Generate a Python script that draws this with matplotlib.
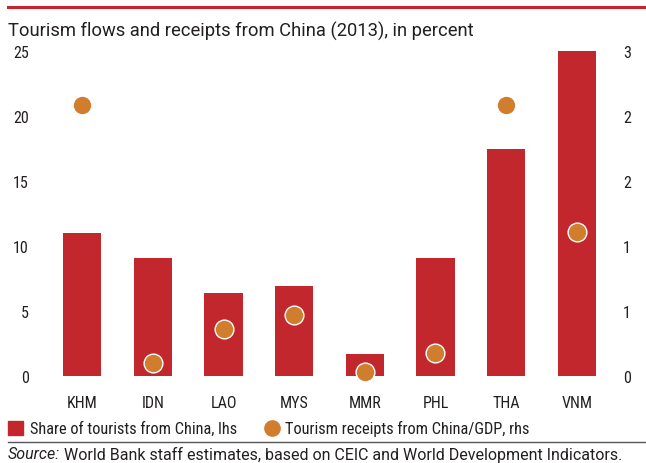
import matplotlib
matplotlib.use("Agg")
import matplotlib.pyplot as plt
from matplotlib.patches import Rectangle
from matplotlib.lines import Line2D
from matplotlib.ticker import FuncFormatter
import numpy as np

categories = ["KHM", "IDN", "LAO", "MYS", "MMR", "PHL", "THA", "VNM"]
tourist_share = [11.0, 9.1, 6.4, 6.9, 1.7, 9.1, 17.5, 25.0]
receipts_gdp = [2.5, 0.12, 0.43, 0.56, 0.04, 0.21, 2.5, 1.33]
left_ticks = [0, 5, 10, 15, 20, 25]
right_ticks = [0, 0.6, 1.2, 1.8, 2.4, 3.0]

RED = "#C1272D"
ORANGE = "#D17D2E"
TXT = "#231F20"
COND = ['Roboto Condensed', 'DejaVu Sans']

plt.rcParams['font.family'] = ['Roboto', 'DejaVu Sans']

W, H = 646, 464
fig = plt.figure(figsize=(W/100, H/100), dpi=100)
ax = fig.add_axes([47/W, 1-377/H, (612-47)/W, (377-52)/H])
x = np.arange(len(categories))
ax.bar(x, tourist_share, width=0.54, color=RED, zorder=2)
ax.set_xlim(-0.5, 7.5)
ax.set_ylim(0, 25)
ax.set_yticks(left_ticks)
ax.set_xticks(x)
ax.set_xticklabels(categories)
for s in ax.spines.values():
    s.set_visible(False)
ax.tick_params(axis='both', length=0, labelsize=11.5, colors=TXT)
ax.tick_params(axis='y', pad=13)
ax.tick_params(axis='x', pad=14)
for lab in ax.get_yticklabels() + ax.get_xticklabels():
    lab.set_family(COND)
for lab in ax.get_yticklabels():
    lab.set_horizontalalignment('right')

ax2 = ax.twinx()
ax2.set_ylim(0, 3)
ax2.set_yticks(right_ticks)
ax2.yaxis.set_major_formatter(FuncFormatter(lambda v, p: f"{v:.0f}"))
for s in ax2.spines.values():
    s.set_visible(False)
ax2.tick_params(axis='y', length=0, labelsize=11.5, colors=TXT, pad=8)
for lab in ax2.get_yticklabels():
    lab.set_family(COND)
ax2.plot(x, receipts_gdp, linestyle='none', marker='o', markersize=13.5,
         markerfacecolor=ORANGE, markeredgecolor='white', markeredgewidth=1.0,
         zorder=3, clip_on=False)

# top red rule
fig.add_artist(Line2D([8/W, 1], [1-8/H, 1-8/H], color=RED, lw=2.2))
fig.text(8/W, 1-31/H, "Tourism flows and receipts from China (2013), in percent",
         fontsize=13.2, color=TXT, va='center', ha='left')

# legend
fig.add_artist(Rectangle((8/W, 1-436/H), 15/W, 14/H, color=RED, transform=fig.transFigure))
fig.text(30/W, 1-429/H, "Share of tourists from China, lhs", fontsize=11.8,
         family=COND, color=TXT, va='center', ha='left')
fig.add_artist(Line2D([272/W], [1-429/H], marker='o', markersize=11,
                      markerfacecolor=ORANGE, markeredgecolor=ORANGE, linestyle='none'))
fig.text(285/W, 1-429/H, "Tourism receipts from China/GDP, rhs", fontsize=11.8,
         family=COND, color=TXT, va='center', ha='left')
fig.add_artist(Line2D([8/W, 1], [1-443/H, 1-443/H], color="#555555", lw=1.0))
t1 = fig.text(8/W, 1-455/H, "Source:", fontsize=11.5, style='italic',
              color=TXT, va='center', ha='left')
fig.canvas.draw()
bb = t1.get_window_extent()
fig.text((bb.x1 + 4)/W, 1-455/H,
         "World Bank staff estimates, based on CEIC and World Development Indicators.",
         fontsize=11.5, color=TXT, va='center', ha='left')

fig.savefig("out.png", dpi=100)
